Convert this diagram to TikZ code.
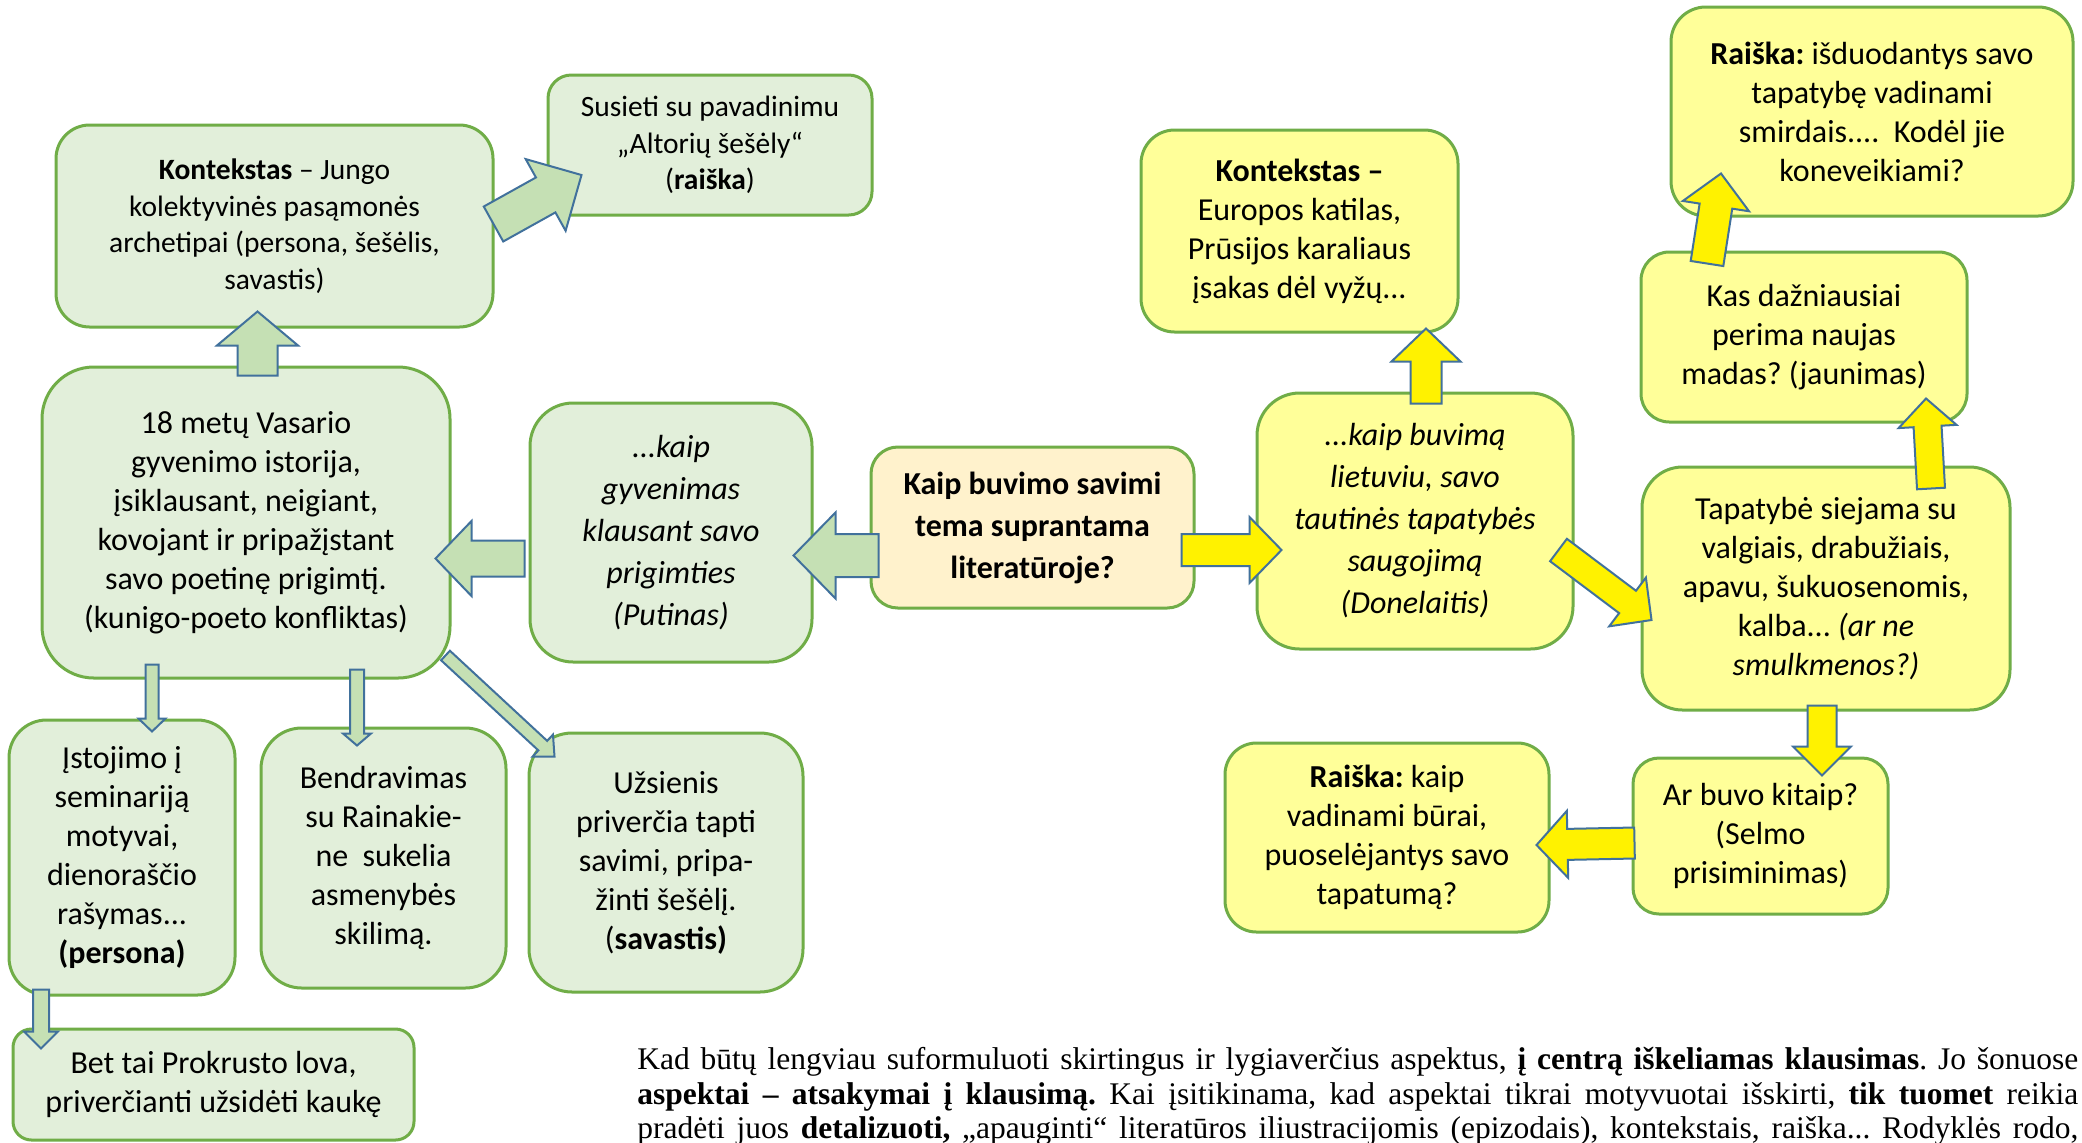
\documentclass[tikz,border=0pt]{standalone}
\usepackage{fontspec}
\setmainfont{Carlito}
\newfontfamily\notefont{Liberation Serif}
\usetikzlibrary{calc}
\frenchspacing

\definecolor{greenfill}{HTML}{E2EFDA}
\definecolor{greenline}{HTML}{70AD47}
\definecolor{yellowfill}{HTML}{FFFF99}
\definecolor{questfill}{HTML}{FFF2CC}
\definecolor{arrowgreen}{HTML}{C5E0B4}
\definecolor{arrowline}{HTML}{41719C}

\newcommand{\boxfont}{\fontsize{16pt}{19.5pt}\selectfont}
\newcommand{\smallboxfont}{\fontsize{14.75pt}{18.25pt}\selectfont}
\newcommand{\italicboxfont}{\fontsize{16pt}{21pt}\selectfont\itshape}

\newcommand{\blockarrow}[6]{%
  \coordinate (ba-tail) at (#2);
  \coordinate (ba-tip) at (#3);
  \coordinate (ba-base) at ($(ba-tip)!#6*0.5pt!(ba-tail)$);
  \filldraw [fat arrow, #1]
    ($(ba-tail)!#4*0.25pt!90:(ba-tip)$) -- ($(ba-base)!#4*0.25pt!90:(ba-tip)$) --
    ($(ba-base)!#5*0.25pt!90:(ba-tip)$) -- (ba-tip) --
    ($(ba-base)!#5*0.25pt!-90:(ba-tip)$) -- ($(ba-base)!#4*0.25pt!-90:(ba-tip)$) --
    ($(ba-tail)!#4*0.25pt!-90:(ba-tip)$) -- cycle;
}

\begin{document}
\begin{tikzpicture} [x = 0.5pt, y = -0.5pt,
    box/.style = {draw = greenline, line width = 1.5pt, align = center, inner sep = 0pt, font = \boxfont},
    boxsize/.style 2 args = {minimum width = #1*0.5pt, minimum height = #2*0.5pt, rounded corners = {min(#1,#2)*0.0833pt}},
    greenbox/.style = {box, fill = greenfill},
    yellowbox/.style = {box, fill = yellowfill},
    questionbox/.style = {box, fill = questfill, font = \fontsize{16pt}{21pt}\selectfont\bfseries},
    fat arrow/.style = {draw = arrowline, line width = 1pt, line join = miter},
    greenarrow/.style = {fill = arrowgreen},
    yellowarrow/.style = {fill = yellow}]
        \useasboundingbox (0,0) rectangle (2082,1142);
        \fill [white] (0,0) rectangle (2082,1142);

        \node (k1)
        [greenbox, boxsize = {437}{202}, font = \smallboxfont] at (274.5,226)
        {\textbf{Kontekstas} – Jungo\\kolektyvinės pasąmonės\\archetipai (persona, šešėlis,\\savastis)};
        \node (s)
        [greenbox, boxsize = {324}{140}, font = \smallboxfont] at (710,145)
        {Susieti su pavadinimu\\„Altorių šešėly“\\(\textbf{raiška})};
        \node (b)
        [greenbox, boxsize = {408}{311}] at (246,522.5)
        {18 metų Vasario\\gyvenimo istorija,\\įsiklausant, neigiant,\\kovojant ir pripažįstant\\savo poetinę prigimtį.\\(kunigo-poeto konfliktas)};
        \node (p)
        [greenbox, boxsize = {282}{259}, font = \italicboxfont] at (671,532.5)
        {...kaip\\gyvenimas\\klausant savo\\prigimties\\(Putinas)};
        \node (c)
        [questionbox, boxsize = {323}{161}] at (1032.5,527.5)
        {Kaip buvimo savimi\\tema suprantama\\literatūroje?};
        \node (i)
        [greenbox, boxsize = {226}{275}] at (122,857.5)
        {Įstojimo į\\seminariją\\motyvai,\\dienoraščio\\rašymas...\\\textbf{(persona)}};
        \node (bd)
        [greenbox, boxsize = {245}{260}] at (383.5,858)
        {Bendravimas\\su Rainakie-\\ne\ \ sukelia\\asmenybės\\skilimą.};
        \node (u)
        [greenbox, boxsize = {274}{259}] at (666,862.5)
        {Užsienis\\priverčia tapti\\savimi, pripa-\\žinti šešėlį.\\(\textbf{savastis)}};
        \node (bt)
        [greenbox, boxsize = {401}{111}] at (213.5,1084.5)
        {Bet tai Prokrusto lova,\\priverčianti užsidėti kaukę};

        \node (d)
        [yellowbox, boxsize = {316}{256}, font = \italicboxfont] at (1415,521)
        {...kaip buvimą\\lietuviu, savo\\tautinės tapatybės\\saugojimą\\(Donelaitis)};
        \node (k2)
        [yellowbox, boxsize = {317}{202}] at (1299.5,231)
        {\textbf{Kontekstas –}\\Europos katilas,\\Prūsijos karaliaus\\įsakas dėl vyžų...};
        \node (r1)
        [yellowbox, boxsize = {402}{209}] at (1872,111.5)
        {\textbf{Raiška:} išduodantys savo\\tapatybę vadinami\\smirdais....\ \ Kodėl jie\\koneveikiami?};
        \node (kd)
        [yellowbox, boxsize = {326}{170}] at (1804,337)
        {Kas dažniausiai\\perima naujas\\madas? (jaunimas)};
        \node (t)
        [yellowbox, boxsize = {368}{243}] at (1826,588.5)
        {Tapatybė siejama su\\valgiais, drabužiais,\\apavu, šukuosenomis,\\kalba... \textit{(ar ne}\\\textit{smulkmenos?)}};
        \node (a)
        [yellowbox, boxsize = {255}{156}] at (1760.5,836)
        {Ar buvo kitaip?\\(Selmo\\prisiminimas)};
        \node (r2)
        [yellowbox, boxsize = {324}{189}] at (1387,837.5)
        {\textbf{Raiška:} kaip\\vadinami būrai,\\puoselėjantys savo\\tapatumą?};

        \blockarrow{greenarrow}{$(k1.east)+(-1,-2)$}{$(s.west)+(35,30)$}{40}{82}{41}
        \blockarrow{greenarrow}{$(b.north)+(11.5,10)$}{$(k1.south)+(-17,-17)$}{40}{81}{34}
        \blockarrow{greenarrow}{$(p.west)+(-4,26)$}{$(b.east)+(-16,36)$}{36}{75}{36}
        \blockarrow{greenarrow}{$(c.west)+(9,28)$}{$(p.east)+(-20,23)$}{43}{86}{42}
        \blockarrow{greenarrow}{$(b.south)+(-94,-15)$}{$(i.north)+(30,13)$}{13}{27}{13}
        \blockarrow{greenarrow}{$(b.south)+(111,-10)$}{$(bd.north)+(-26.5,19)$}{14}{28}{12}
        \blockarrow{greenarrow}{$(b.south east)+(-6,-24)$}{$(u.north west)+(27,25)$}{13}{30}{16}
        \blockarrow{greenarrow}{$(i.south)+(-81,-7)$}{$(bt.north)+(-172.5,21)$}{16}{34}{17}
        \blockarrow{yellowarrow}{$(c.east)+(-14,22.5)$}{$(d.west)+(26,29)$}{32}{66}{32}
        \blockarrow{yellowarrow}{$(d.north)+(11,12)$}{$(k2.south)+(126.5,-5)$}{31}{69}{33}
        \blockarrow{yellowarrow}{$(d.east)+(-16,29)$}{$(t.west)+(11,31.5)$}{28}{61}{30}
        \blockarrow{yellowarrow}{$(t.north)+(105,23)$}{$(kd.south)+(122,-25)$}{28}{58}{28}
        \blockarrow{yellowarrow}{$(kd.north)+(-97,13)$}{$(r1.south)+(-151,-44)$}{33}{67}{33}
        \blockarrow{yellowarrow}{$(t.south)+(-4,-6)$}{$(a.north)+(61.5,19)$}{29}{58}{29}
        \blockarrow{yellowarrow}{$(a.west)+(3,7)$}{$(r2.east)+(-14,7.5)$}{31}{67}{31}

        \node (note)
        [anchor = north west, inner sep = 0pt, align = left, font = \notefont\fontsize{15.75pt}{17.25pt}\selectfont] at (637,1047)
        {\makebox[720.5pt][s]{Kad būtų lengviau suformuluoti skirtingus ir lygiaverčius aspektus, \textbf{į centrą iškeliamas klausimas}. Jo šonuose}\\
         \makebox[720.5pt][s]{\textbf{aspektai – atsakymai į klausimą.} Kai įsitikinama, kad aspektai tikrai motyvuotai išskirti, \textbf{tik tuomet} reikia}\\
         \makebox[720.5pt][s]{pradėti juos \textbf{detalizuoti,} „apauginti“ literatūros iliustracijomis (epizodais), kontekstais, raiška... Rodyklės rodo,}};
    \end{tikzpicture}
\end{document}
